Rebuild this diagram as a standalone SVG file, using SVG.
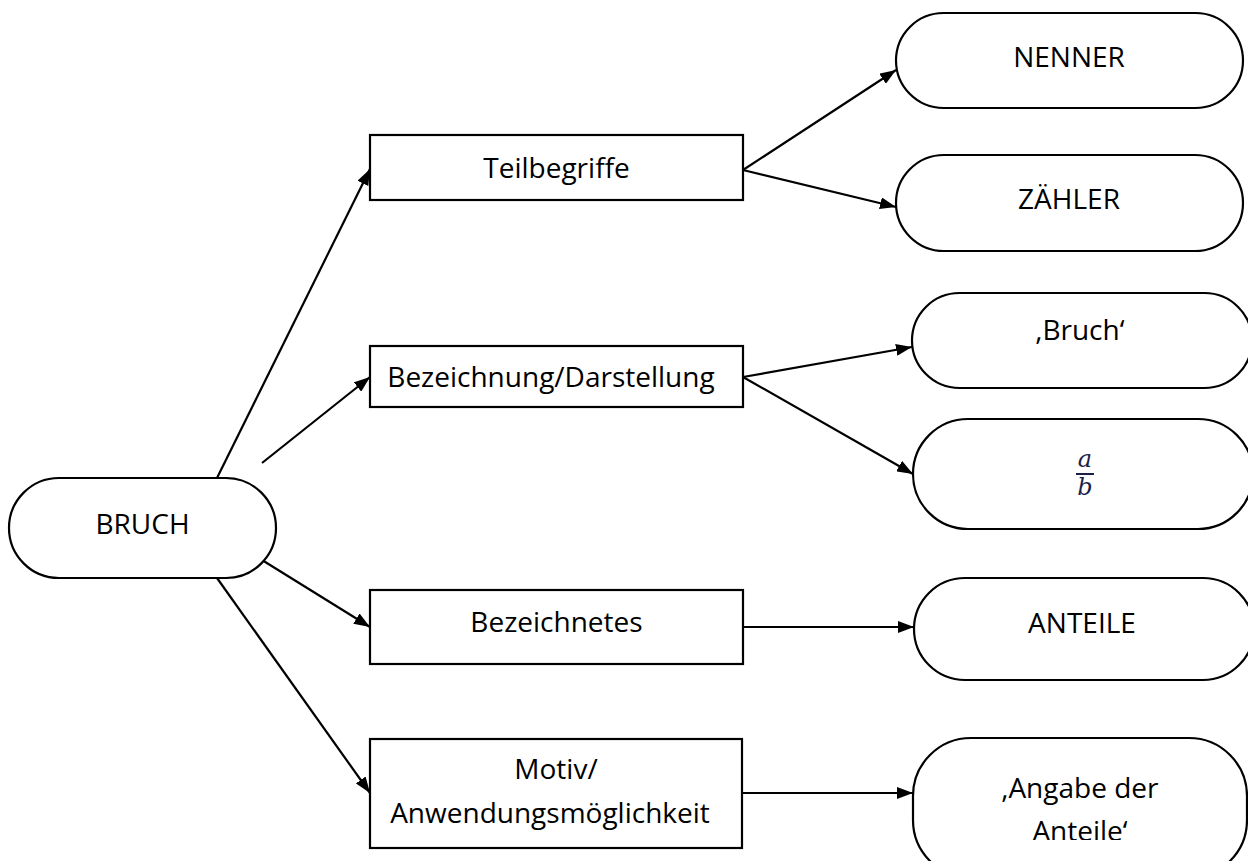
<svg xmlns="http://www.w3.org/2000/svg" width="1248" height="861" viewBox="0 0 1248 861">
  <defs>
    <marker id="arrow" viewBox="0 0 16 12" refX="16" refY="6" markerWidth="16" markerHeight="12" markerUnits="userSpaceOnUse" orient="auto">
      <path d="M0,0 L16,6 L0,12 Z" fill="#000"/>
    </marker>
    <clipPath id="clipAngabe">
      <rect x="900" y="730" width="348" height="110"/>
    </clipPath>
  </defs>
  <style>
    .box { fill: #fff; stroke: #000; stroke-width: 2.2; }
    .label { font-family: "Open Sans", "Liberation Sans", sans-serif; font-size: 28px; fill: #000; text-anchor: middle; }
    .edge { fill: none; stroke: #000; stroke-width: 2.2; marker-end: url(#arrow); }
    .math { font-family: "DejaVu Serif", "Liberation Serif", serif; font-style: italic; font-size: 24px; fill: #1c1f4a; text-anchor: middle; }
  </style>
  <rect width="1248" height="861" fill="#fff"/>

  <!-- connectors -->
  <g id="connectors">
    <line class="edge" x1="217" y1="478" x2="370" y2="169"/>
    <line class="edge" x1="262" y1="463" x2="370" y2="377"/>
    <line class="edge" x1="262" y1="560" x2="370" y2="627"/>
    <line class="edge" x1="217" y1="578" x2="370" y2="793"/>
    <line class="edge" x1="743" y1="170" x2="896" y2="70"/>
    <line class="edge" x1="743" y1="170" x2="896" y2="207"/>
    <line class="edge" x1="743" y1="377" x2="912" y2="347"/>
    <line class="edge" x1="743" y1="377" x2="913" y2="474"/>
    <line class="edge" x1="743" y1="627" x2="914" y2="627"/>
    <line class="edge" x1="743" y1="793" x2="913" y2="793"/>
  </g>

  <!-- root -->
  <g id="bruch">
    <rect class="box" x="9" y="478" width="267" height="100" rx="50" ry="50"/>
    <text class="label" x="142.5" y="534">BRUCH</text>
  </g>

  <!-- middle column -->
  <g id="teilbegriffe">
    <rect class="box" x="370" y="135" width="373" height="65"/>
    <text class="label" x="556.5" y="178">Teilbegriffe</text>
  </g>
  <g id="bezeichnung">
    <rect class="box" x="370" y="346" width="373" height="61"/>
    <text class="label" x="551" y="387">Bezeichnung/Darstellung</text>
  </g>
  <g id="bezeichnetes">
    <rect class="box" x="370" y="590" width="373" height="74"/>
    <text class="label" x="556.5" y="632">Bezeichnetes</text>
  </g>
  <g id="motiv">
    <rect class="box" x="370" y="739" width="372" height="109"/>
    <text class="label" x="556" y="779">Motiv/</text>
    <text class="label" x="550" y="823">Anwendungsmöglichkeit</text>
  </g>

  <!-- right column -->
  <g id="nenner">
    <rect class="box" x="896" y="13" width="347" height="95" rx="47.5" ry="47.5"/>
    <text class="label" x="1069" y="67">NENNER</text>
  </g>
  <g id="zaehler">
    <rect class="box" x="896" y="155" width="347" height="96" rx="48" ry="48"/>
    <text class="label" x="1069" y="209">ZÄHLER</text>
  </g>
  <g id="bruch-wort">
    <rect class="box" x="912" y="293" width="340" height="95" rx="47.5" ry="47.5"/>
    <text class="label" x="1080" y="340">‚Bruch‘</text>
  </g>
  <g id="bruch-formel">
    <rect class="box" x="913" y="419" width="340" height="110" rx="55" ry="55"/>
    <text class="math" x="1085" y="467">a</text>
    <line x1="1076" y1="474" x2="1094" y2="474" stroke="#1c1f4a" stroke-width="2"/>
    <text class="math" x="1085" y="495">b</text>
  </g>
  <g id="anteile">
    <rect class="box" x="914" y="578" width="340" height="102" rx="51" ry="51"/>
    <text class="label" x="1082" y="633">ANTEILE</text>
  </g>
  <g id="angabe">
    <rect class="box" x="913" y="738" width="334" height="140" rx="58" ry="58"/>
    <g clip-path="url(#clipAngabe)">
      <text class="label" x="1080" y="798">‚Angabe der</text>
      <text class="label" x="1080" y="841">Anteile‘</text>
    </g>
  </g>
</svg>
